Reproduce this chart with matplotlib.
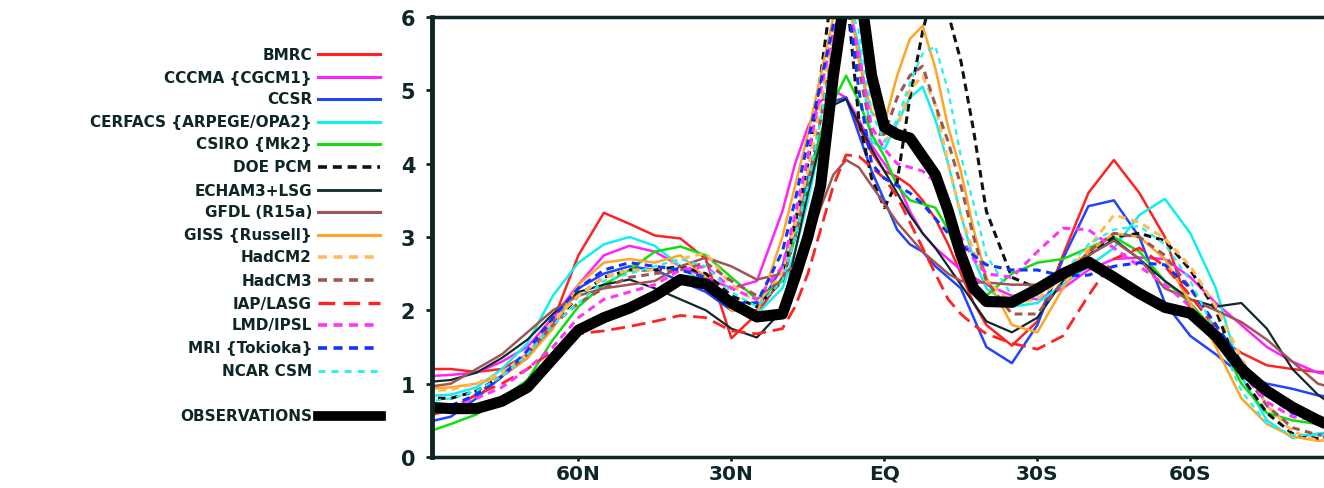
import matplotlib.pyplot as plt
from matplotlib.lines import Line2D

plt.rcParams['font.family'] = ['DejaVu Sans']
plt.rcParams['font.weight'] = 'bold'

##---- data: zonal mean values
lat = [90, 85, 80, 75, 70, 65, 60, 55, 50, 45, 40, 35, 30, 25, 20,
       17.5, 15, 12.5, 10, 7.5, 5, 2.5, 0, -2.5, -5, -7.5, -10, -12.5, -15, -17.5,
       -20, -25, -30, -35, -40, -45, -50, -55, -60, -65, -70, -75, -80, -85, -90]

bmrc = [1.20, 1.20, 1.16, 1.20, 1.40, 1.85, 2.75, 3.33, 3.18, 3.02, 2.98, 2.70, 1.62, 1.95, 2.45,
        3.00, 3.70, 4.40, 4.85, 4.90, 4.50, 4.15, 3.90, 3.82, 3.70, 3.50, 3.25, 2.90, 2.50, 2.10,
        1.80, 1.52, 1.85, 2.75, 3.60, 4.05, 3.60, 3.00, 2.00, 1.65, 1.42, 1.25, 1.20, 1.16, 1.15]
cccma = [1.10, 1.12, 1.15, 1.30, 1.50, 1.90, 2.35, 2.75, 2.88, 2.80, 2.60, 2.45, 2.30, 2.40, 3.35,
         4.00, 4.50, 4.85, 5.00, 4.90, 4.60, 4.25, 4.00, 3.75, 3.35, 3.05, 2.85, 2.70, 2.55, 2.45,
         2.35, 2.20, 2.15, 2.30, 2.55, 2.70, 2.72, 2.70, 2.45, 2.10, 1.80, 1.50, 1.30, 1.15, 1.10]
ccsr = [0.47, 0.55, 0.80, 1.10, 1.35, 1.80, 2.30, 2.50, 2.60, 2.55, 2.40, 2.25, 2.00, 2.00, 2.60,
        3.20, 3.80, 4.40, 4.85, 4.90, 4.40, 3.90, 3.50, 3.10, 2.90, 2.80, 2.60, 2.45, 2.30, 1.90,
        1.50, 1.28, 1.80, 2.70, 3.42, 3.50, 3.00, 2.10, 1.65, 1.40, 1.12, 1.00, 0.93, 0.84, 0.80]
cerfacs = [0.83, 0.85, 0.95, 1.20, 1.55, 2.20, 2.65, 2.90, 3.00, 2.88, 2.60, 2.35, 2.10, 1.95, 2.30,
           2.80, 3.50, 4.30, 5.40, 6.30, 5.60, 4.30, 4.20, 4.55, 4.90, 5.05, 4.60, 4.00, 3.30, 2.70,
           2.30, 2.05, 2.10, 2.35, 2.60, 2.85, 3.30, 3.52, 3.05, 2.30, 1.10, 0.50, 0.26, 0.32, 0.35]
csiro = [0.33, 0.45, 0.58, 0.80, 1.05, 1.60, 2.05, 2.35, 2.55, 2.80, 2.87, 2.75, 2.45, 2.15, 2.40,
         3.00, 3.70, 4.40, 4.85, 5.20, 4.85, 4.40, 4.10, 3.70, 3.50, 3.45, 3.40, 3.10, 2.60, 2.25,
         2.20, 2.50, 2.65, 2.70, 2.85, 3.00, 2.80, 2.40, 2.10, 1.70, 1.00, 0.60, 0.50, 0.45, 0.45]
doe = [0.80, 0.80, 0.90, 1.10, 1.40, 1.80, 2.20, 2.45, 2.55, 2.55, 2.60, 2.50, 2.20, 2.05, 2.40,
       3.20, 4.00, 5.20, 6.50, 6.40, 4.60, 3.80, 3.40, 3.75, 4.90, 5.80, 6.50, 6.05, 5.40, 4.45,
       3.35, 2.45, 2.30, 2.50, 2.75, 3.00, 3.05, 2.95, 2.55, 2.00, 1.10, 0.60, 0.32, 0.25, 0.30]
echam = [1.02, 1.05, 1.15, 1.35, 1.60, 1.95, 2.25, 2.35, 2.42, 2.30, 2.15, 2.00, 1.75, 1.63, 2.00,
         2.80, 3.60, 4.30, 4.80, 4.88, 4.55, 4.20, 3.90, 3.60, 3.30, 3.05, 2.85, 2.60, 2.35, 2.10,
         1.85, 1.70, 1.90, 2.40, 2.75, 2.97, 2.70, 2.40, 2.15, 2.05, 2.10, 1.75, 1.20, 0.85, 0.60]
gfdl = [0.95, 1.00, 1.20, 1.40, 1.70, 2.00, 2.20, 2.30, 2.35, 2.40, 2.60, 2.72, 2.60, 2.42, 2.50,
        2.60, 2.90, 3.40, 3.85, 4.05, 3.95, 3.70, 3.45, 3.20, 3.00, 2.80, 2.65, 2.50, 2.40, 2.38,
        2.38, 2.35, 2.35, 2.50, 2.75, 2.95, 2.70, 2.30, 2.15, 2.00, 1.84, 1.60, 1.30, 1.00, 0.90]
giss = [0.93, 0.95, 1.00, 1.10, 1.35, 1.75, 2.35, 2.65, 2.70, 2.65, 2.75, 2.45, 2.00, 1.95, 3.00,
        3.70, 4.40, 5.20, 6.00, 6.50, 5.40, 4.70, 4.55, 5.20, 5.70, 5.88, 5.30, 4.50, 3.90, 3.10,
        2.45, 1.80, 1.70, 2.30, 2.80, 3.05, 3.00, 2.70, 2.10, 1.50, 0.80, 0.45, 0.28, 0.22, 0.25]
hadcm2 = [0.90, 0.92, 1.00, 1.15, 1.40, 1.85, 2.20, 2.45, 2.55, 2.55, 2.70, 2.78, 2.35, 2.10, 2.50,
          3.20, 3.90, 4.80, 5.80, 6.50, 6.20, 4.90, 4.30, 4.50, 5.00, 5.20, 4.80, 4.00, 3.30, 2.80,
          2.40, 2.10, 2.15, 2.45, 2.85, 3.30, 3.20, 2.98, 2.60, 2.05, 1.35, 0.70, 0.35, 0.22, 0.25]
hadcm3 = [0.55, 0.65, 0.85, 1.10, 1.40, 1.80, 2.10, 2.30, 2.45, 2.50, 2.55, 2.65, 2.40, 2.20, 2.40,
          3.00, 3.70, 4.60, 5.60, 6.30, 5.30, 4.40, 4.40, 4.90, 5.20, 5.33, 4.80, 4.30, 3.70, 3.00,
          2.40, 1.95, 1.95, 2.40, 2.80, 3.05, 3.00, 2.75, 2.30, 1.80, 1.20, 0.70, 0.40, 0.30, 0.30]
iap = [0.55, 0.65, 0.85, 1.00, 1.20, 1.45, 1.68, 1.72, 1.78, 1.85, 1.93, 1.90, 1.72, 1.68, 1.75,
       2.05, 2.50, 3.10, 3.70, 4.12, 4.10, 3.95, 3.80, 3.55, 3.20, 2.85, 2.50, 2.15, 1.95, 1.80,
       1.68, 1.55, 1.47, 1.65, 2.20, 2.70, 2.85, 2.60, 2.20, 1.75, 1.25, 0.85, 0.60, 0.55, 0.50]
lmd = [0.60, 0.70, 0.80, 0.95, 1.20, 1.50, 1.90, 2.15, 2.25, 2.35, 2.55, 2.60, 2.30, 2.15, 2.60,
       3.30, 4.10, 5.00, 5.80, 6.30, 5.50, 4.50, 4.20, 4.00, 3.95, 3.90, 3.75, 3.40, 3.00, 2.70,
       2.50, 2.45, 2.80, 3.12, 3.10, 2.85, 2.60, 2.35, 2.05, 1.65, 1.15, 0.75, 0.55, 0.50, 0.50]
mri = [0.60, 0.70, 0.85, 1.10, 1.45, 1.90, 2.30, 2.55, 2.65, 2.60, 2.55, 2.45, 2.10, 2.10, 2.80,
       3.50, 4.30, 5.10, 5.90, 6.40, 5.00, 4.00, 3.80, 3.70, 3.60, 3.45, 3.25, 3.05, 2.90, 2.75,
       2.62, 2.55, 2.55, 2.47, 2.48, 2.60, 2.65, 2.62, 2.30, 1.80, 1.30, 0.85, 0.60, 0.50, 0.50]
ncar = [0.75, 0.80, 0.90, 1.10, 1.40, 1.80, 2.10, 2.40, 2.50, 2.60, 2.70, 2.60, 2.25, 2.05, 2.40,
        3.00, 3.70, 4.60, 5.60, 6.30, 5.80, 4.70, 4.30, 4.60, 5.10, 5.50, 5.60, 5.00, 4.10, 3.45,
        2.75, 2.20, 2.20, 2.50, 2.90, 3.10, 3.15, 2.90, 2.40, 1.70, 0.90, 0.45, 0.30, 0.30, 0.30]
obs = [0.68, 0.66, 0.66, 0.76, 0.95, 1.34, 1.73, 1.90, 2.03, 2.20, 2.42, 2.36, 2.10, 1.91, 1.95,
       2.45, 3.00, 3.70, 5.20, 6.40, 6.50, 5.20, 4.50, 4.40, 4.35, 4.10, 3.85, 3.36, 2.76, 2.30,
       2.12, 2.11, 2.29, 2.50, 2.66, 2.45, 2.23, 2.04, 1.96, 1.65, 1.20, 0.90, 0.68, 0.50, 0.35]

model_names = ['BMRC', 'CCCMA {CGCM1}', 'CCSR', 'CERFACS {ARPEGE/OPA2}', 'CSIRO {Mk2}',
               'DOE PCM', 'ECHAM3+LSG', 'GFDL (R15a)', 'GISS {Russell}', 'HadCM2',
               'HadCM3', 'IAP/LASG', 'LMD/IPSL', 'MRI {Tokioka}', 'NCAR CSM']
model_data = [bmrc, cccma, ccsr, cerfacs, csiro, doe, echam, gfdl, giss, hadcm2,
              hadcm3, iap, lmd, mri, ncar]
model_colors = ['#ff2222', '#ff22ff', '#2244ff', '#11eeee', '#11dd11', '#111111', '#0c2a2a',
                '#a05555', '#ffa526', '#ffbb55', '#a05555', '#ff2222', '#ff33ff', '#1133ff', '#22f0f0']
model_styles = ['-', '-', '-', '-', '-', (0, (2.5, 1.6)), '-', '-', '-', (0, (2.5, 1.8)),
                (0, (2.5, 1.8)), (0, (5, 2.5)), (0, (2.5, 1.8)), (0, (2.5, 1.8)), (0, (2.5, 2.2))]
model_widths = [1.8, 1.8, 1.8, 1.8, 1.8, 2.2, 1.6, 1.8, 1.8, 2.2, 2.2, 2.0, 2.2, 2.2, 1.6]

tick_pos = [60, 30, 0, -30, -60]
tick_lab = ['60N', '30N', 'EQ', '30S', '60S']

ink = '#0f2626'

# 图形和坐标轴
fig = plt.figure(figsize=(13.24, 4.89), dpi=100)
ax = fig.add_axes([432 / 1324, 31 / 489, 892 / 1324, 440 / 489])

# 模式曲线
for name, vals, c, ls, lw in zip(model_names, model_data, model_colors, model_styles, model_widths):
    ax.plot(lat, vals, color=c, linestyle=ls, linewidth=lw)
# 观测曲线 (最粗)
ax.plot(lat, obs, color='black', linewidth=8, solid_capstyle='round', solid_joinstyle='round')

ax.set_xlim(88.7, -86.2)
ax.set_ylim(0, 6)
ax.set_xticks(tick_pos)
ax.set_xticklabels(tick_lab)
ax.set_yticks(range(0, 7))
ax.tick_params(axis='x', length=3, width=2, color=ink, labelsize=14.5, labelcolor=ink, pad=2)
ax.tick_params(axis='y', length=4, width=2, color=ink, labelsize=15, labelcolor=ink, pad=8)
for lab in ax.get_xticklabels() + ax.get_yticklabels():
    lab.set_fontweight('bold')
ax.spines['right'].set_visible(False)
ax.spines['left'].set_linewidth(3.5)
ax.spines['top'].set_linewidth(2.5)
ax.spines['bottom'].set_linewidth(2.5)
for s in ['left', 'top', 'bottom']:
    ax.spines[s].set_color(ink)

# 左侧图例 (手动排布)
W, H = 1324.0, 489.0
row_y = [55, 78, 100, 123, 145, 168, 191, 213, 236, 258, 281, 304, 326, 349, 372]
for name, c, ls, lw, yy in zip(model_names, model_colors, model_styles, model_widths, row_y):
    fig.text(312 / W, 1 - yy / H, name, ha='right', va='center', fontsize=11,
             fontweight='bold', color=ink)
    fig.add_artist(Line2D([318 / W, 380 / W], [1 - yy / H, 1 - yy / H], transform=fig.transFigure,
                          color=c, linestyle=ls, linewidth=lw + 0.4))
fig.text(312 / W, 1 - 417 / H, 'OBSERVATIONS', ha='right', va='center', fontsize=11,
         fontweight='bold', color=ink)
fig.add_artist(Line2D([318 / W, 381 / W], [1 - 417 / H, 1 - 417 / H], transform=fig.transFigure,
                      color='black', linewidth=7))

plt.savefig('out.png', dpi=100)
